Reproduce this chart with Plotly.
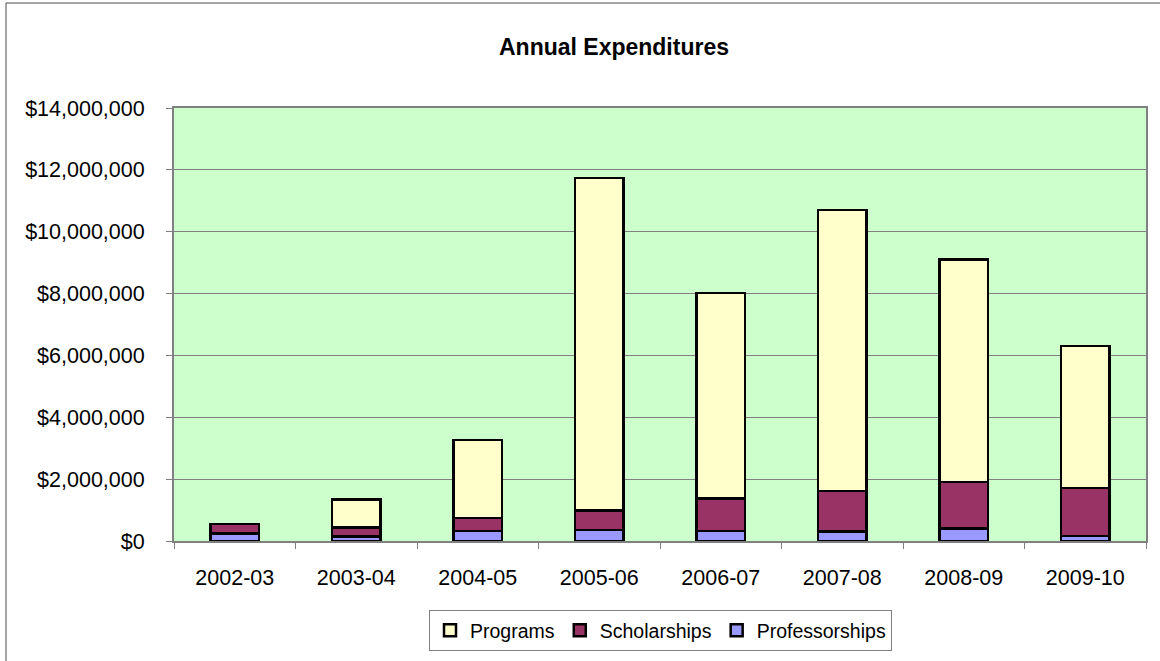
import plotly.graph_objects as go

years = ["2002-03", "2003-04", "2004-05", "2005-06", "2006-07", "2007-08", "2008-09", "2009-10"]
professorships = [250000, 140000, 320000, 360000, 320000, 300000, 400000, 160000]
scholarships = [300000, 300000, 430000, 620000, 1050000, 1320000, 1500000, 1550000]
programs = [0, 910000, 2520000, 10760000, 6650000, 9090000, 7200000, 4600000]

series = [
    ("Professorships", professorships, "#9999FF"),
    ("Scholarships", scholarships, "#993366"),
    ("Programs", programs, "#FFFFCC"),
]

FONT = "Liberation Sans, Arial, sans-serif"
L, R, T, B = 174, 14, 108, 120
PW, PH = 1160 - L - R, 661 - T - B

fig = go.Figure()
for name, vals, color in series:
    fig.add_trace(go.Bar(
        x=years, y=vals, name=name,
        marker=dict(color=color, line=dict(color="black", width=2.5)),
    ))

fig.update_layout(
    width=1160, height=661,
    barmode="stack", bargap=0.6,
    paper_bgcolor="white", plot_bgcolor="#CCFFCC",
    margin=dict(l=L, r=R, t=T, b=B, autoexpand=False),
    font=dict(family=FONT, color="black", size=21),
    title=dict(text="<b>Annual Expenditures</b>", x=614/1160, xanchor="center",
               y=1 - 47/661, yanchor="middle", yref="container", automargin=False,
               font=dict(family=FONT, size=23, color="black")),
    legend=dict(orientation="h", x=(660.5-L)/PW, xanchor="center",
                y=(661-B-630.5)/PH, yanchor="middle",
                traceorder="reversed",
                bordercolor="#808080", borderwidth=1,
                font=dict(family=FONT, size=19.5, color="black"),
                itemwidth=30, tracegroupgap=0),
    showlegend=True,
    shapes=[dict(type="rect", xref="paper", yref="paper",
                 x0=(6-L)/PW, x1=1.5, y0=-0.6, y1=(661-B-3)/PH,
                 line=dict(color="#4d4d4d", width=1), fillcolor="rgba(0,0,0,0)", layer="below")],
)

fig.update_xaxes(
    type="category", ticks="outside", tickson="boundaries", ticklen=6,
    tickcolor="#808080", showline=True, linecolor="#808080", linewidth=2,
    mirror=True, showgrid=False, ticklabelstandoff=16, automargin=False,
    tickfont=dict(family=FONT, size=21.5, color="black"),
)
fig.update_yaxes(
    range=[0, 14000000], dtick=2000000, tickprefix="$", tickformat=",.0f",
    ticks="outside", ticklen=6, tickcolor="#808080",
    showline=True, linecolor="#808080", linewidth=2, mirror=True,
    showgrid=True, gridcolor="#808080", gridwidth=1, zeroline=False,
    ticklabelstandoff=17, automargin=False,
    tickfont=dict(family=FONT, size=21.5, color="black"),
)

fig.write_html("out.html",
               config={"displayModeBar": False},
               post_script="document.body.style.margin='0';document.body.style.overflow='hidden';")
